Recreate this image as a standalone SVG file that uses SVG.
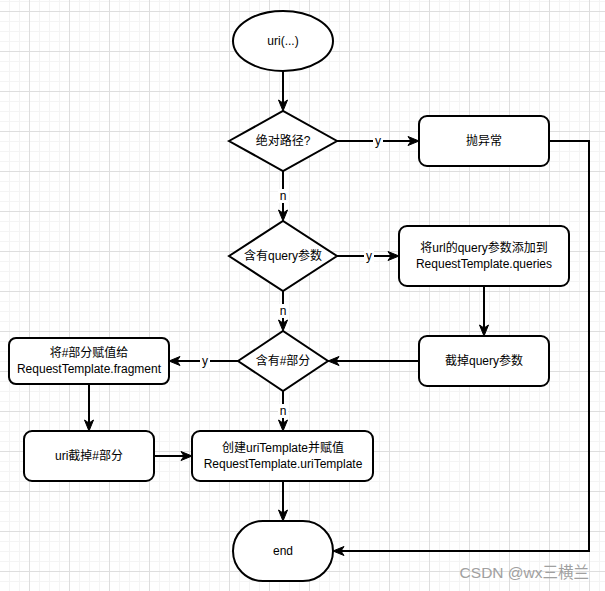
<svg xmlns="http://www.w3.org/2000/svg" width="605" height="591" viewBox="0 0 605 591">
<style>
.node{fill:#fff;stroke:#000;stroke-width:2}
.edge{fill:none;stroke:#000;stroke-width:2}
text{font-family:"Liberation Sans","Noto Sans CJK SC",sans-serif;font-size:12px;fill:#000;text-anchor:middle}
.lbl{fill:#fff}
.wm{font-size:15.5px;fill:#a0a0a0;text-anchor:end}
</style>
<defs>
<pattern id="grid" x="29" y="11" width="40" height="40" patternUnits="userSpaceOnUse">
<rect x="10" y="0" width="1" height="40" fill="#f4f4f4"/>
<rect x="20" y="0" width="1" height="40" fill="#f4f4f4"/>
<rect x="30" y="0" width="1" height="40" fill="#f4f4f4"/>
<rect x="0" y="10" width="40" height="1" fill="#f4f4f4"/>
<rect x="0" y="20" width="40" height="1" fill="#f4f4f4"/>
<rect x="0" y="30" width="40" height="1" fill="#f4f4f4"/>
<rect x="0" y="0" width="1" height="40" fill="#dedede"/>
<rect x="0" y="0" width="40" height="1" fill="#dedede"/>
</pattern>
<marker id="arr" markerUnits="userSpaceOnUse" markerWidth="12" markerHeight="10" refX="3" refY="4.5" orient="auto" overflow="visible">
<path d="M0,0 L11,4.5 L0,9 L3,4.5 Z" fill="#000" stroke="#000" stroke-width="1" stroke-linejoin="miter"/>
</marker>
</defs>
<rect width="605" height="591" fill="#fff"/>
<rect width="605" height="591" fill="url(#grid)"/>

<g id="edges">
<path class="edge" d="M283,71 V103" marker-end="url(#arr)"/>
<path class="edge" d="M337,141 H411" marker-end="url(#arr)"/>
<path class="edge" d="M283,171 V213" marker-end="url(#arr)"/>
<path class="edge" d="M549,141 H589 V551 H341" marker-end="url(#arr)"/>
<path class="edge" d="M337,256 H391" marker-end="url(#arr)"/>
<path class="edge" d="M283,291 V323" marker-end="url(#arr)"/>
<path class="edge" d="M484,286 V328" marker-end="url(#arr)"/>
<path class="edge" d="M419,361 H336" marker-end="url(#arr)"/>
<path class="edge" d="M238,361 H177" marker-end="url(#arr)"/>
<path class="edge" d="M283,391 V423" marker-end="url(#arr)"/>
<path class="edge" d="M89,384 V423" marker-end="url(#arr)"/>
<path class="edge" d="M154,456 H184" marker-end="url(#arr)"/>
<path class="edge" d="M283,481 V513" marker-end="url(#arr)"/>
<rect class="lbl" x="373" y="134" width="10" height="14"/>
<text x="378" y="145">y</text>
<rect class="lbl" x="278" y="189" width="10" height="14"/>
<text x="283" y="200">n</text>
<rect class="lbl" x="364" y="249" width="10" height="14"/>
<text x="369" y="260">y</text>
<rect class="lbl" x="278" y="304" width="10" height="14"/>
<text x="283" y="315">n</text>
<rect class="lbl" x="200" y="354" width="10" height="14"/>
<text x="205" y="365">y</text>
<rect class="lbl" x="278" y="404" width="10" height="14"/>
<text x="283" y="415">n</text>
</g>

<g id="start">
<ellipse class="node" cx="283" cy="41" rx="50" ry="30"/>
<text x="283" y="45">uri(...)</text>
</g>
<g id="isAbsolute">
<polygon class="node" points="229,141 283,111 337,141 283,171"/>
<text x="283" y="145">绝对路径?</text>
</g>
<g id="throwEx">
<rect class="node" x="419" y="116" width="130" height="50" rx="8"/>
<text x="484" y="145">抛异常</text>
</g>
<g id="hasQuery">
<polygon class="node" points="229,256 283,221 337,256 283,291"/>
<text x="283" y="260">含有query参数</text>
</g>
<g id="addQueries">
<rect class="node" x="399" y="226" width="170" height="60" rx="8"/>
<text x="484" y="252">将url的query参数添加到</text>
<text x="484" y="268">RequestTemplate.queries</text>
</g>
<g id="hasFragment">
<polygon class="node" points="238,361 283,331 328,361 283,391"/>
<text x="283" y="365">含有#部分</text>
</g>
<g id="cutQuery">
<rect class="node" x="419" y="336" width="130" height="50" rx="8"/>
<text x="484" y="365">截掉query参数</text>
</g>
<g id="setFragment">
<rect class="node" x="9" y="338" width="160" height="46" rx="7"/>
<text x="89" y="357">将#部分赋值给</text>
<text x="89" y="373">RequestTemplate.fragment</text>
</g>
<g id="cutFragment">
<rect class="node" x="24" y="431" width="130" height="50" rx="8"/>
<text x="89" y="460">uri截掉#部分</text>
</g>
<g id="createTemplate">
<rect class="node" x="192" y="431" width="181" height="50" rx="8"/>
<text x="283" y="452">创建uriTemplate并赋值</text>
<text x="283" y="468">RequestTemplate.uriTemplate</text>
</g>
<g id="end">
<rect class="node" x="233" y="521" width="100" height="60" rx="30"/>
<text x="283" y="555">end</text>
</g>
<text class="wm" x="589" y="578">CSDN @wx三横兰</text>
</svg>
